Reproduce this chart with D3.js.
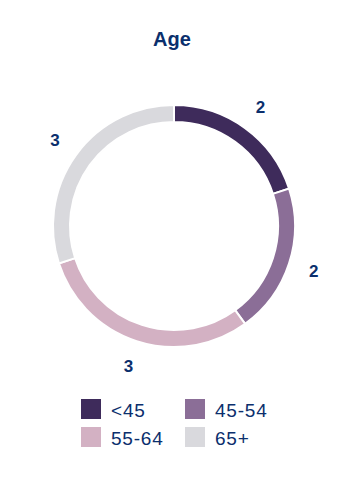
<!DOCTYPE html>
<html>
<head>
<meta charset="utf-8">
<script src="https://cdn.jsdelivr.net/npm/d3@7"></script>
<style>
  body { margin: 0; background: #fff; }
  text { font-family: "Liberation Sans", Arial, sans-serif; }
</style>
</head>
<body>
<div class="container"></div>
<script>
var categories = ["<45", "45-54", "55-64", "65+"];
var values = [2, 2, 3, 3];
var colors = ["#3e2b5b", "#8b6e97", "#d3b1c3", "#d9d9dd"];

var width = 346,
    height = 480,
    cx = 174,
    cy = 226,
    outerR = 121,
    innerR = 104,
    labelR = 147;

var svg = d3.select(".container")
    .append("svg")
    .attr("width", width)
    .attr("height", height);

svg.append("text")
    .attr("x", 172)
    .attr("y", 46)
    .attr("text-anchor", "middle")
    .style("font-size", "20px")
    .style("font-weight", "bold")
    .style("fill", "#0b2f6d")
    .text("Age");

var pie = d3.pie().sort(null).value(function (d) { return d; });
var arcs = pie(values);

var arc = d3.arc().innerRadius(innerR).outerRadius(outerR);
var labelArc = d3.arc().innerRadius(labelR).outerRadius(labelR);

var g = svg.append("g")
    .attr("transform", "translate(" + cx + "," + cy + ")");

g.selectAll("path")
    .data(arcs)
    .enter()
    .append("path")
    .attr("d", arc)
    .style("fill", function (d, i) { return colors[i]; })
    .attr("stroke", "#fff")
    .attr("stroke-width", 2);

// value labels just outside the ring
g.selectAll("text.val")
    .data(arcs)
    .enter()
    .append("text")
    .attr("class", "val")
    .attr("transform", function (d) { return "translate(" + labelArc.centroid(d) + ")"; })
    .attr("text-anchor", "middle")
    .attr("dy", "0.35em")
    .style("font-size", "17px")
    .style("font-weight", "bold")
    .style("fill", "#0b2f6d")
    .text(function (d) { return d.data; });

// legend, two columns
var legend = svg.append("g")
    .selectAll("g")
    .data(categories)
    .enter()
    .append("g")
    .attr("transform", function (d, i) {
        return "translate(" + (81 + (i % 2) * 104) + "," + (399 + Math.floor(i / 2) * 28) + ")";
    });

legend.append("rect")
    .attr("width", 20)
    .attr("height", 20)
    .style("fill", function (d, i) { return colors[i]; });

legend.append("text")
    .attr("x", 30)
    .attr("y", 18)
    .style("font-size", "19px")
    .style("letter-spacing", "0.8px")
    .style("fill", "#0b2f6d")
    .text(function (d) { return d; });
</script>
</body>
</html>
